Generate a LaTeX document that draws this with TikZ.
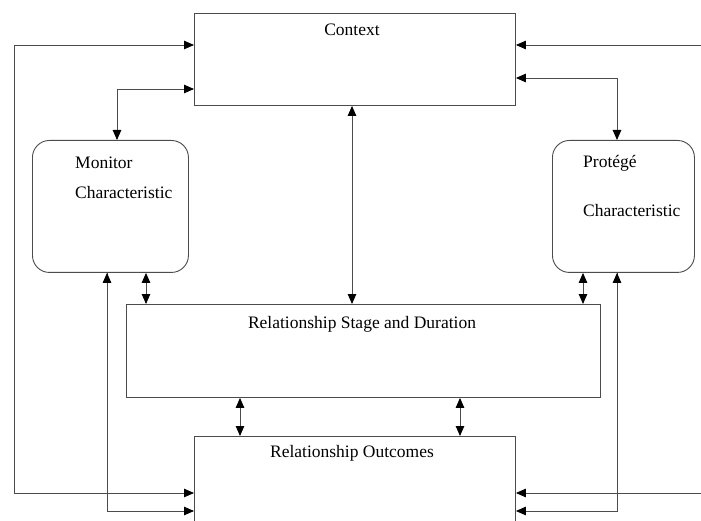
\documentclass[tikz,border=0pt]{standalone}
\usepackage{fontspec}
\setmainfont{Liberation Serif}
\usetikzlibrary{arrows.meta}
\begin{document}
\begin{tikzpicture}[x=1pt,y=-1pt,
  tip/.tip={Triangle[length=10pt,width=8.5pt,fill=black,color=black]},
  line/.style={draw=black!70, line width=0.9pt},
  arr/.style={line, -tip},
  biarr/.style={line, tip-tip},
  backarr/.style={line, tip-},
  box/.style={line, rectangle, inner sep=0pt, anchor=north west},
  rbox/.style={box, rounded corners=17pt},
  lbl/.style={font=\fontsize{17.5}{20}\selectfont, inner sep=0pt}]
\useasboundingbox (0,0) rectangle (701,521);
\clip (0,0) rectangle (701,521);
\fill[white] (0,0) rectangle (701,521);

% boxes
\node[box, minimum width=321pt, minimum height=92pt] (ctx) at (194,13) {};
\node[rbox, minimum width=156pt, minimum height=132pt] (mon) at (32,140) {};
\node[rbox, minimum width=142pt, minimum height=132pt] (pro) at (552,140) {};
\node[box, minimum width=474pt, minimum height=93pt] (stg) at (126,304) {};
\node[box, minimum width=321pt, minimum height=110pt] (out) at (194,436) {};

% labels
\node[lbl] (tctx) at (352,30) {Context};
\node[lbl, anchor=west] (tmon1) at (75,163) {Monitor};
\node[lbl, anchor=west] (tmon2) at (75,193) {Characteristic};
\node[lbl, anchor=west] (tpro1) at (583,163) {Protégé};
\node[lbl, anchor=west] (tpro2) at (583,211) {Characteristic};
\node[lbl] (tstg) at (362,324) {Relationship Stage and Duration};
\node[lbl] (tout) at (352,453) {Relationship Outcomes};

% free ends of the outer feedback lines
\coordinate (lfar) at (14,45);
\coordinate (rtop) at (710,45);
\coordinate (rbot) at (710,493);

% context links
\draw[biarr] (ctx.south -| 352,0) -- (stg.north -| 352,0);
\draw[biarr] (mon.north -| 117,0) |- (ctx.west |- 0,89);
\draw[biarr] (pro.north -| 617,0) |- (ctx.east |- 0,78);
\draw[arr] (rtop) -- (ctx.east |- rtop);

% outer left loop: context <-> outcomes
\draw[biarr] (ctx.west |- lfar) -- (lfar) |- (out.west |- 0,493);
\draw[arr] (rbot) -- (out.east |- rbot);

% characteristics to stage
\draw[biarr] (mon.south -| 146,0) -- (stg.north -| 146,0);
\draw[biarr] (pro.south -| 583,0) -- (stg.north -| 583,0);

% characteristics to outcomes
\draw[arr] (mon.south -| 107,0) |- (out.west |- 0,511);
\draw[backarr] (mon.south -| 107,0) -- (107,290);
\draw[arr] (pro.south -| 617,0) |- (out.east |- 0,511);
\draw[backarr] (pro.south -| 617,0) -- (617,290);

% stage to outcomes
\draw[biarr] (stg.south -| 240,0) -- (out.north -| 240,0);
\draw[biarr] (stg.south -| 460,0) -- (out.north -| 460,0);
\end{tikzpicture}
\end{document}
